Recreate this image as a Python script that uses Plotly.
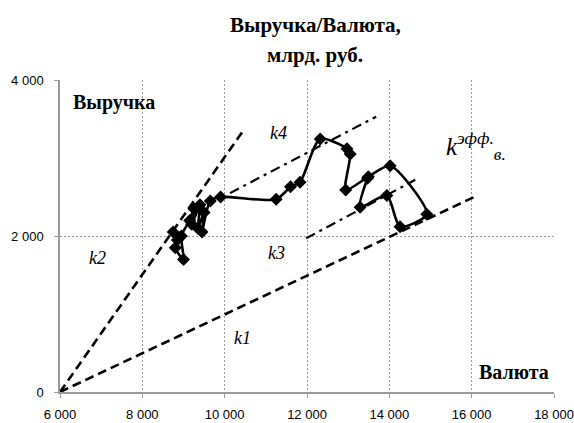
import plotly.graph_objects as go

# Revenue vs currency trajectory (bn rub)
currency = [8750, 8850, 8800, 9000, 8950, 9150, 9250, 9200, 9400, 9350, 9500, 9450,
            9650, 9900, 11250, 11600, 11830, 12320, 12970, 13050, 12940, 13490,
            14020, 14910, 14260, 13940, 13290, 13470]
revenue = [2050, 1950, 1850, 1700, 2000, 2200, 2350, 2150, 2400, 2100, 2300, 2050,
           2450, 2500, 2470, 2630, 2690, 3245, 3120, 3050, 2590, 2760,
           2900, 2280, 2120, 2520, 2370, 2740]

# Reference rays / segments
k1_x, k1_y = [6000, 16100], [0, 2510]
k2_x, k2_y = [6000, 10450], [0, 3350]
k3_x, k3_y = [11980, 14630], [1970, 2720]
k4_x, k4_y = [10130, 13680], [2550, 3530]

x_ticks = [6000, 8000, 10000, 12000, 14000, 16000, 18000]
x_tick_text = ["6 000", "8 000", "10 000", "12 000", "14 000", "16 000", "18 000"]
y_ticks = [0, 2000, 4000]
y_tick_text = ["0", "2 000", "4 000"]

W, H = 574, 423
ML, MR, MT, MB = 60, 20, 80, 31

fig = go.Figure()

dash_style = "9px,5px"
dashdot_style = "10px,5px,3px,5px"

fig.add_trace(go.Scatter(x=k1_x, y=k1_y, mode="lines",
                         line=dict(color="black", width=2.6, dash=dash_style)))
fig.add_trace(go.Scatter(x=k2_x, y=k2_y, mode="lines",
                         line=dict(color="black", width=2.6, dash=dash_style)))
fig.add_trace(go.Scatter(x=k3_x, y=k3_y, mode="lines",
                         line=dict(color="black", width=2.2, dash=dashdot_style)))
fig.add_trace(go.Scatter(x=k4_x, y=k4_y, mode="lines",
                         line=dict(color="black", width=2.2, dash=dashdot_style)))

fig.add_trace(go.Scatter(x=currency, y=revenue, mode="lines+markers",
                         line=dict(color="black", width=2.6, shape="spline", smoothing=0.7),
                         marker=dict(symbol="diamond", size=10, color="black")))

serif = "Liberation Serif, Times New Roman, serif"
# label positions in page pixels
notes = [
    (315, 25, "<b>Выручка/Валюта,</b>", 21),
    (315, 55, "<b>млрд. руб.</b>", 21),
    (114, 102, "<b>Выручка</b>", 20),
    (514, 372, "<b>Валюта</b>", 20),
    (278, 133, "<i>k4</i>", 18),
    (97, 258, "<i>k2</i>", 18),
    (276, 253, "<i>k3</i>", 18),
    (242, 338, "<i>k1</i>", 18),
    (476, 146, "<i>k<sup>эфф.</sup><sub>в.</sub></i>", 25),
]
plot_w = W - ML - MR
plot_h = H - MT - MB
for px, py, txt, size in notes:
    fig.add_annotation(x=(px - ML) / plot_w, y=1 - (py - MT) / plot_h,
                       xref="paper", yref="paper",
                       xanchor="center", yanchor="middle", showarrow=False,
                       text=txt, font=dict(family=serif, size=size, color="black"))

fig.update_layout(
    width=W, height=H,
    margin=dict(l=ML, r=MR, t=MT, b=MB),
    paper_bgcolor="white", plot_bgcolor="white",
    showlegend=False,
    font=dict(family="Liberation Sans, Arial, sans-serif", size=13, color="#111"),
)

axis_common = dict(showgrid=True, gridcolor="#9a9a9a", gridwidth=1, griddash="2px,2px",
                   showline=True, linecolor="#9a9a9a", linewidth=1.5,
                   ticks="outside", ticklen=4, tickcolor="#9a9a9a",
                   zeroline=False, automargin=False,
                   tickfont=dict(size=13, color="#000"))
fig.update_xaxes(range=[6000, 18000], tickvals=x_ticks, ticktext=x_tick_text,
                 ticklabelstandoff=6, **axis_common)
fig.update_yaxes(range=[0, 4000], tickvals=y_ticks, ticktext=y_tick_text,
                 ticklabelstandoff=8, **axis_common)

fig.write_html("out.html")
